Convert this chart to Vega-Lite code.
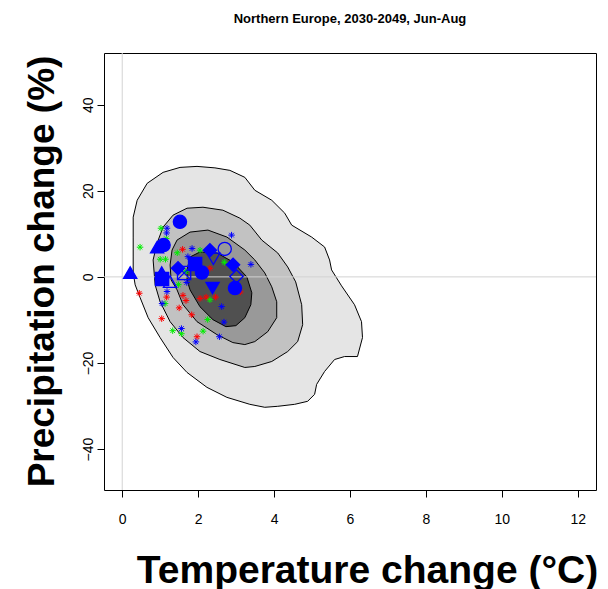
{
  "$schema": "https://vega.github.io/schema/vega-lite/v6.json",
  "autosize": {"type": "none"},
  "width": 492,
  "height": 437,
  "padding": {"left": 104, "top": 53, "right": 12, "bottom": 99},
  "background": "white",
  "config": {
    "font": "Liberation Sans",
    "view": {"stroke": "black", "strokeWidth": 1},
    "axis": {"grid": false, "domain": false, "tickColor": "black", "tickSize": 7, "labelColor": "black", "labelFontSize": 14, "titleColor": "black", "labelFont": "Liberation Sans", "titleFont": "Liberation Sans"}
  },
  "title": {"text": "Northern Europe, 2030-2049, Jun-Aug", "fontSize": 13, "fontWeight": "bold", "font": "Liberation Sans", "anchor": "middle", "offset": 27, "color": "black"},
  "datasets": {
    "contours": [
      {"level": 1, "i": 0, "x": 0.289, "y": 9.25}, {"level": 1, "i": 1, "x": 0.289, "y": 13.87}, {"level": 1, "i": 2, "x": 0.394, "y": 17.8}, {"level": 1, "i": 3, "x": 0.657, "y": 21.73}, {"level": 1, "i": 4, "x": 1.077, "y": 24.28}, {"level": 1, "i": 5, "x": 1.523, "y": 25.43}, {"level": 1, "i": 6, "x": 1.97, "y": 25.66}, {"level": 1, "i": 7, "x": 2.442, "y": 25.32}, {"level": 1, "i": 8, "x": 2.836, "y": 24.74}, {"level": 1, "i": 9, "x": 3.23, "y": 23.12}, {"level": 1, "i": 10, "x": 3.493, "y": 20.12}, {"level": 1, "i": 11, "x": 3.939, "y": 17.8}, {"level": 1, "i": 12, "x": 4.281, "y": 14.8}, {"level": 1, "i": 13, "x": 4.464, "y": 12.02}, {"level": 1, "i": 14, "x": 4.989, "y": 9.25}, {"level": 1, "i": 15, "x": 5.331, "y": 6.94}, {"level": 1, "i": 16, "x": 5.462, "y": 3.93}, {"level": 1, "i": 17, "x": 5.515, "y": 1.62}, {"level": 1, "i": 18, "x": 5.777, "y": -2.08}, {"level": 1, "i": 19, "x": 6.119, "y": -6.47}, {"level": 1, "i": 20, "x": 6.303, "y": -10.4}, {"level": 1, "i": 21, "x": 6.329, "y": -14.1}, {"level": 1, "i": 22, "x": 6.197, "y": -18.5}, {"level": 1, "i": 23, "x": 5.856, "y": -18.5}, {"level": 1, "i": 24, "x": 5.594, "y": -19.19}, {"level": 1, "i": 25, "x": 5.331, "y": -21.97}, {"level": 1, "i": 26, "x": 5.121, "y": -24.97}, {"level": 1, "i": 27, "x": 5.068, "y": -27.28}, {"level": 1, "i": 28, "x": 4.884, "y": -28.9}, {"level": 1, "i": 29, "x": 4.543, "y": -29.6}, {"level": 1, "i": 30, "x": 4.097, "y": -30.06}, {"level": 1, "i": 31, "x": 3.755, "y": -30.29}, {"level": 1, "i": 32, "x": 3.361, "y": -29.6}, {"level": 1, "i": 33, "x": 2.757, "y": -27.98}, {"level": 1, "i": 34, "x": 2.232, "y": -25.66}, {"level": 1, "i": 35, "x": 1.707, "y": -22.2}, {"level": 1, "i": 36, "x": 1.339, "y": -18.73}, {"level": 1, "i": 37, "x": 0.998, "y": -14.1}, {"level": 1, "i": 38, "x": 0.683, "y": -9.48}, {"level": 1, "i": 39, "x": 0.473, "y": -4.86}, {"level": 1, "i": 40, "x": 0.341, "y": -1.85}, {"level": 1, "i": 41, "x": 0.289, "y": 0.92}, {"level": 1, "i": 42, "x": 0.289, "y": 4.62},
      {"level": 2, "i": 0, "x": 0.814, "y": 3.93}, {"level": 2, "i": 1, "x": 0.919, "y": 7.86}, {"level": 2, "i": 2, "x": 1.077, "y": 11.56}, {"level": 2, "i": 3, "x": 1.339, "y": 14.34}, {"level": 2, "i": 4, "x": 1.707, "y": 15.95}, {"level": 2, "i": 5, "x": 2.127, "y": 16.18}, {"level": 2, "i": 6, "x": 2.652, "y": 15.49}, {"level": 2, "i": 7, "x": 3.099, "y": 13.64}, {"level": 2, "i": 8, "x": 3.361, "y": 12.02}, {"level": 2, "i": 9, "x": 3.676, "y": 8.55}, {"level": 2, "i": 10, "x": 4.097, "y": 5.55}, {"level": 2, "i": 11, "x": 4.359, "y": 2.31}, {"level": 2, "i": 12, "x": 4.569, "y": -1.16}, {"level": 2, "i": 13, "x": 4.727, "y": -6.47}, {"level": 2, "i": 14, "x": 4.753, "y": -11.1}, {"level": 2, "i": 15, "x": 4.622, "y": -15.03}, {"level": 2, "i": 16, "x": 4.359, "y": -17.34}, {"level": 2, "i": 17, "x": 3.939, "y": -19.65}, {"level": 2, "i": 18, "x": 3.493, "y": -20.81}, {"level": 2, "i": 19, "x": 3.23, "y": -21.04}, {"level": 2, "i": 20, "x": 2.574, "y": -19.19}, {"level": 2, "i": 21, "x": 2.048, "y": -17.34}, {"level": 2, "i": 22, "x": 1.602, "y": -14.1}, {"level": 2, "i": 23, "x": 1.261, "y": -10.4}, {"level": 2, "i": 24, "x": 0.998, "y": -5.78}, {"level": 2, "i": 25, "x": 0.867, "y": -1.85},
      {"level": 3, "i": 0, "x": 1.261, "y": 2.77}, {"level": 3, "i": 1, "x": 1.313, "y": 6.24}, {"level": 3, "i": 2, "x": 1.444, "y": 8.55}, {"level": 3, "i": 3, "x": 1.786, "y": 10.4}, {"level": 3, "i": 4, "x": 2.258, "y": 10.87}, {"level": 3, "i": 5, "x": 2.757, "y": 9.25}, {"level": 3, "i": 6, "x": 3.23, "y": 6.24}, {"level": 3, "i": 7, "x": 3.493, "y": 3.93}, {"level": 3, "i": 8, "x": 3.755, "y": 0.92}, {"level": 3, "i": 9, "x": 3.939, "y": -2.31}, {"level": 3, "i": 10, "x": 4.07, "y": -5.78}, {"level": 3, "i": 11, "x": 4.07, "y": -9.48}, {"level": 3, "i": 12, "x": 3.834, "y": -12.72}, {"level": 3, "i": 13, "x": 3.493, "y": -15.03}, {"level": 3, "i": 14, "x": 3.23, "y": -15.72}, {"level": 3, "i": 15, "x": 2.915, "y": -15.26}, {"level": 3, "i": 16, "x": 2.495, "y": -13.41}, {"level": 3, "i": 17, "x": 1.97, "y": -10.4}, {"level": 3, "i": 18, "x": 1.602, "y": -6.47}, {"level": 3, "i": 19, "x": 1.444, "y": -3.01}, {"level": 3, "i": 20, "x": 1.287, "y": -0.69},
      {"level": 4, "i": 0, "x": 1.707, "y": 1.62}, {"level": 4, "i": 1, "x": 1.786, "y": 4.62}, {"level": 4, "i": 2, "x": 2.048, "y": 5.78}, {"level": 4, "i": 3, "x": 2.495, "y": 5.55}, {"level": 4, "i": 4, "x": 2.915, "y": 3.47}, {"level": 4, "i": 5, "x": 3.283, "y": 0.0}, {"level": 4, "i": 6, "x": 3.414, "y": -3.7}, {"level": 4, "i": 7, "x": 3.388, "y": -6.47}, {"level": 4, "i": 8, "x": 3.23, "y": -9.48}, {"level": 4, "i": 9, "x": 2.994, "y": -11.33}, {"level": 4, "i": 10, "x": 2.731, "y": -11.56}, {"level": 4, "i": 11, "x": 2.39, "y": -9.94}, {"level": 4, "i": 12, "x": 2.048, "y": -6.94}, {"level": 4, "i": 13, "x": 1.786, "y": -3.01}, {"level": 4, "i": 14, "x": 1.707, "y": -0.69}
    ],
    "small": [
      {"ens": "E2", "x": 0.47, "y": 6.9}, {"ens": "E2", "x": 1.02, "y": 11.3}, {"ens": "E2", "x": 1.16, "y": 8.9}, {"ens": "E2", "x": 1.0, "y": 4.1}, {"ens": "E2", "x": 1.14, "y": 4.1}, {"ens": "E2", "x": 1.45, "y": 5.6}, {"ens": "E2", "x": 2.05, "y": 6.2}, {"ens": "E2", "x": 2.69, "y": 3.4}, {"ens": "E2", "x": 1.48, "y": -1.8}, {"ens": "E2", "x": 1.13, "y": -6.2}, {"ens": "E2", "x": 2.31, "y": -5.3}, {"ens": "E2", "x": 2.25, "y": -9.9}, {"ens": "E2", "x": 1.33, "y": -12.5}, {"ens": "E2", "x": 1.56, "y": -13.2}, {"ens": "E2", "x": 2.13, "y": -12.6}, {"ens": "E2", "x": 1.67, "y": 1.2},
      {"ens": "E1", "x": 0.45, "y": -3.8}, {"ens": "E1", "x": 1.17, "y": -4.7}, {"ens": "E1", "x": 1.04, "y": -9.7}, {"ens": "E1", "x": 1.6, "y": -4.3}, {"ens": "E1", "x": 1.68, "y": -5.5}, {"ens": "E1", "x": 1.5, "y": -7.2}, {"ens": "E1", "x": 1.83, "y": -8.8}, {"ens": "E1", "x": 1.97, "y": -13.9}, {"ens": "E1", "x": 2.05, "y": -5.0}, {"ens": "E1", "x": 2.21, "y": -4.7}, {"ens": "E1", "x": 2.46, "y": -4.7}, {"ens": "E1", "x": 2.31, "y": 2.0}, {"ens": "E1", "x": 1.59, "y": 6.4}, {"ens": "E1", "x": 2.02, "y": 2.6}, {"ens": "E1", "x": 3.11, "y": -3.5}, {"ens": "E1", "x": 1.9, "y": 3.2},
      {"ens": "E3", "x": 1.18, "y": 11.3}, {"ens": "E3", "x": 1.17, "y": 10.2}, {"ens": "E3", "x": 1.84, "y": 6.6}, {"ens": "E3", "x": 1.73, "y": 4.7}, {"ens": "E3", "x": 2.88, "y": 9.7}, {"ens": "E3", "x": 3.39, "y": 2.9}, {"ens": "E3", "x": 1.18, "y": -3.4}, {"ens": "E3", "x": 1.05, "y": -6.2}, {"ens": "E3", "x": 2.62, "y": -6.9}, {"ens": "E3", "x": 2.68, "y": -10.5}, {"ens": "E3", "x": 2.56, "y": -13.9}, {"ens": "E3", "x": 1.94, "y": -15.1}, {"ens": "E3", "x": 1.56, "y": -12.0}, {"ens": "E3", "x": 1.7, "y": -1.3}
    ],
    "models": [
      {"model": "m01", "x": 1.52, "y": 12.8}, {"model": "m02", "x": 0.21, "y": 1.0}, {"model": "m03", "x": 0.92, "y": 6.9}, {"model": "m04", "x": 1.09, "y": 7.4}, {"model": "m05", "x": 1.04, "y": 1.0}, {"model": "m06", "x": 1.05, "y": -0.5}, {"model": "m07", "x": 1.47, "y": 2.0}, {"model": "m08", "x": 1.26, "y": -1.1}, {"model": "m09", "x": 1.63, "y": 0.9}, {"model": "m10", "x": 1.92, "y": 3.0}, {"model": "m11", "x": 2.1, "y": 1.0}, {"model": "m12", "x": 2.31, "y": 6.2}, {"model": "m13", "x": 2.7, "y": 6.5}, {"model": "m14", "x": 2.4, "y": 4.2}, {"model": "m15", "x": 2.92, "y": 2.8}, {"model": "m16", "x": 3.01, "y": 0.1}, {"model": "m17", "x": 2.38, "y": -2.6}, {"model": "m18", "x": 2.97, "y": -2.6}
    ],
    "refs": [{"x0": 0, "y0": 0}]
  },
  "layer": [
    {"data": {"name": "contours"}, "transform": [{"filter": "datum.level == 1"}],
     "mark": {"type": "line", "interpolate": "linear-closed", "fill": "#e5e5e5", "stroke": "black", "strokeWidth": 1},
     "encoding": {
       "x": {"field": "x", "type": "quantitative", "scale": {"domain": [-0.48, 12.48], "nice": false, "zero": false}, "axis": {"values": [0, 2, 4, 6, 8, 10, 12], "title": "Temperature change (°C)", "titleFontSize": 39, "titleFontWeight": "bold", "titleX": 263, "titleY": 80, "titleBaseline": "middle", "titleAlign": "center", "labelPadding": 15}},
       "y": {"field": "y", "type": "quantitative", "scale": {"domain": [-49.5, 52], "nice": false, "zero": false}, "axis": {"values": [-40, -20, 0, 20, 40], "title": "Precipitation change (%)", "titleFontSize": 37, "titleFontWeight": "bold", "titleX": -62, "titleY": 218, "titleBaseline": "middle", "titleAlign": "center", "titleAngle": -90, "labelAngle": -90, "labelAlign": "center", "labelBaseline": "middle", "labelPadding": 9}},
       "order": {"field": "i", "type": "quantitative"}
     }},
    {"data": {"name": "contours"}, "transform": [{"filter": "datum.level == 2"}],
     "mark": {"type": "line", "interpolate": "linear-closed", "fill": "#c2c2c2", "stroke": "black", "strokeWidth": 1},
     "encoding": {"x": {"field": "x", "type": "quantitative"}, "y": {"field": "y", "type": "quantitative"}, "order": {"field": "i", "type": "quantitative"}}},
    {"data": {"name": "contours"}, "transform": [{"filter": "datum.level == 3"}],
     "mark": {"type": "line", "interpolate": "linear-closed", "fill": "#999999", "stroke": "black", "strokeWidth": 1},
     "encoding": {"x": {"field": "x", "type": "quantitative"}, "y": {"field": "y", "type": "quantitative"}, "order": {"field": "i", "type": "quantitative"}}},
    {"data": {"name": "contours"}, "transform": [{"filter": "datum.level == 4"}],
     "mark": {"type": "line", "interpolate": "linear-closed", "fill": "#505050", "stroke": "black", "strokeWidth": 1},
     "encoding": {"x": {"field": "x", "type": "quantitative"}, "y": {"field": "y", "type": "quantitative"}, "order": {"field": "i", "type": "quantitative"}}},
    {"data": {"name": "refs"}, "mark": {"type": "rule", "color": "#d3d3d3", "strokeWidth": 1},
     "encoding": {"x": {"field": "x0", "type": "quantitative"}}},
    {"data": {"name": "refs"}, "mark": {"type": "rule", "color": "#d3d3d3", "strokeWidth": 1},
     "encoding": {"y": {"field": "y0", "type": "quantitative"}}},
    {"data": {"name": "small"},
     "mark": {"type": "point", "shape": "M-1,0H1M0,-1V1M-0.7,-0.7L0.7,0.7M-0.7,0.7L0.7,-0.7", "size": 42, "strokeWidth": 1, "filled": false, "opacity": 1},
     "encoding": {"x": {"field": "x", "type": "quantitative"}, "y": {"field": "y", "type": "quantitative"},
       "stroke": {"field": "ens", "type": "nominal", "scale": {"domain": ["E1", "E2", "E3"], "range": ["#ff0000", "#00ee00", "#0000ff"]}, "legend": null}}},
    {"data": {"name": "models"},
     "mark": {"type": "point", "size": 175, "strokeWidth": 1.3, "stroke": "#0000ff", "opacity": 1},
     "encoding": {"x": {"field": "x", "type": "quantitative"}, "y": {"field": "y", "type": "quantitative"},
       "shape": {"field": "model", "type": "nominal", "legend": null, "scale": {
         "domain": ["m01", "m02", "m03", "m04", "m05", "m06", "m07", "m08", "m09", "m10", "m11", "m12", "m13", "m14", "m15", "m16", "m17", "m18"],
         "range": ["circle", "triangle-up", "triangle-up", "circle", "triangle-up", "square", "diamond", "triangle-up", "M-1,-1H1V1H-1ZM-1,-1L1,1M-1,1L1,-1", "square", "circle", "diamond", "circle", "triangle-down", "diamond", "diamond", "triangle-down", "circle"]}},
       "fill": {"field": "model", "type": "nominal", "legend": null, "scale": {
         "domain": ["m01", "m02", "m03", "m04", "m05", "m06", "m07", "m08", "m09", "m10", "m11", "m12", "m13", "m14", "m15", "m16", "m17", "m18"],
         "range": ["#0000ff", "#0000ff", "#0000ff", "#0000ff", "#0000ff", "#0000ff", "#0000ff", "transparent", "transparent", "#0000ff", "#0000ff", "#0000ff", "transparent", "transparent", "#0000ff", "transparent", "#0000ff", "#0000ff"]}}}}
  ]
}
